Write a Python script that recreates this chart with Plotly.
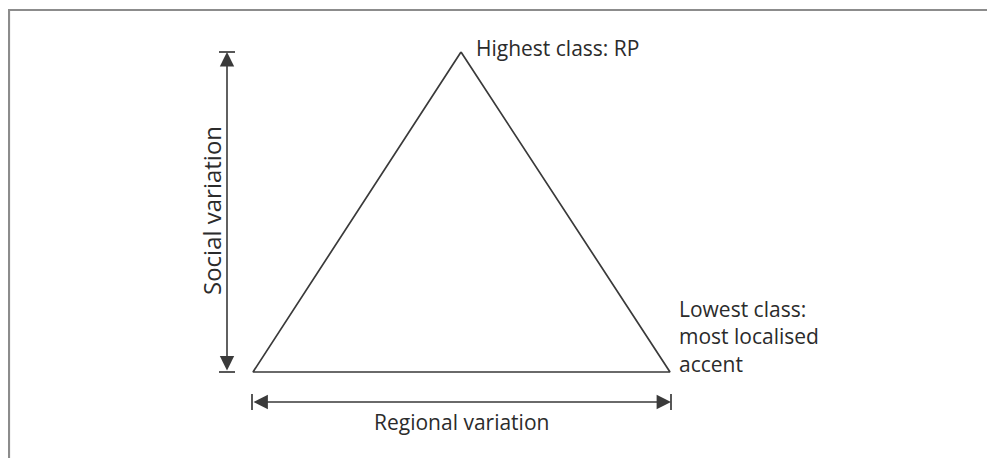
import plotly.graph_objects as go

# diagram geometry (pixel space of the 995x458 window, y grows downward)
tri_x = [461, 670, 253, 461]
tri_y = [52, 372, 372, 52]

social_x = 227
social_y = [52, 372]      # top, bottom of the vertical arrow
regional_y = 402
regional_x = [252, 671]   # left, right of the horizontal arrow

frame_x = [9, 9, 1010]
frame_y = [470, 10, 10]

labels = {
    'apex': 'Highest class: RP',
    'corner': 'Lowest class:<br>most localised<br>accent',
    'vertical': 'Social variation',
    'horizontal': 'Regional variation',
}

LINE = '#3a3a3a'
TEXT = '#2b2b2b'
FONT = 'Open Sans'
OFFSET = 8  # page body margin in the browser

fig = go.Figure()

# frame (top and left edges of the cropped box)
fig.add_trace(go.Scatter(
    x=frame_x, y=frame_y, mode='lines',
    line=dict(color='#8c8c8c', width=2.2),
    hoverinfo='skip', showlegend=False
))

# triangle
fig.add_trace(go.Scatter(
    x=tri_x, y=tri_y, mode='lines',
    line=dict(color=LINE, width=1.7),
    hoverinfo='skip', showlegend=False
))

cap = 8
shapes = []
# end caps of the arrows
for yy in social_y:
    shapes.append(dict(type='line', x0=social_x - cap, x1=social_x + cap, y0=yy, y1=yy,
                       line=dict(color=LINE, width=1.7)))
for xx in regional_x:
    shapes.append(dict(type='line', x0=xx, x1=xx, y0=regional_y - cap, y1=regional_y + cap,
                       line=dict(color=LINE, width=1.7)))

arrow_style = dict(
    showarrow=True, text='', axref='x', ayref='y',
    arrowside='end+start', arrowhead=2, startarrowhead=2,
    arrowsize=1.8, startarrowsize=1.8, arrowwidth=1.6,
    arrowcolor=LINE, standoff=0, startstandoff=0
)

annotations = [
    dict(x=social_x, y=social_y[0], ax=social_x, ay=social_y[1], **arrow_style),
    dict(x=regional_x[1], y=regional_y, ax=regional_x[0], ay=regional_y, **arrow_style),
    dict(x=474, y=48, text=labels['apex'], showarrow=False, xanchor='left', yanchor='middle',
         font=dict(family=FONT, size=21, color=TEXT)),
    dict(x=677, y=336, text=labels['corner'], showarrow=False, xanchor='left', yanchor='middle',
         align='left', font=dict(family=FONT, size=21, color=TEXT)),
    dict(x=211, y=211, text=labels['vertical'], showarrow=False, textangle=-90,
         xanchor='center', yanchor='middle', font=dict(family=FONT, size=24, color=TEXT)),
    dict(x=461, y=422, text=labels['horizontal'], showarrow=False,
         xanchor='center', yanchor='middle', font=dict(family=FONT, size=21, color=TEXT)),
]

fig.update_layout(
    width=995, height=458,
    margin=dict(l=0, r=0, t=0, b=0),
    paper_bgcolor='white', plot_bgcolor='white',
    xaxis=dict(range=[OFFSET, 995 + OFFSET], visible=False, fixedrange=True),
    yaxis=dict(range=[458 + OFFSET, OFFSET], visible=False, fixedrange=True),
    shapes=shapes,
    annotations=annotations,
    showlegend=False
)

fig.write_html("out.html")
